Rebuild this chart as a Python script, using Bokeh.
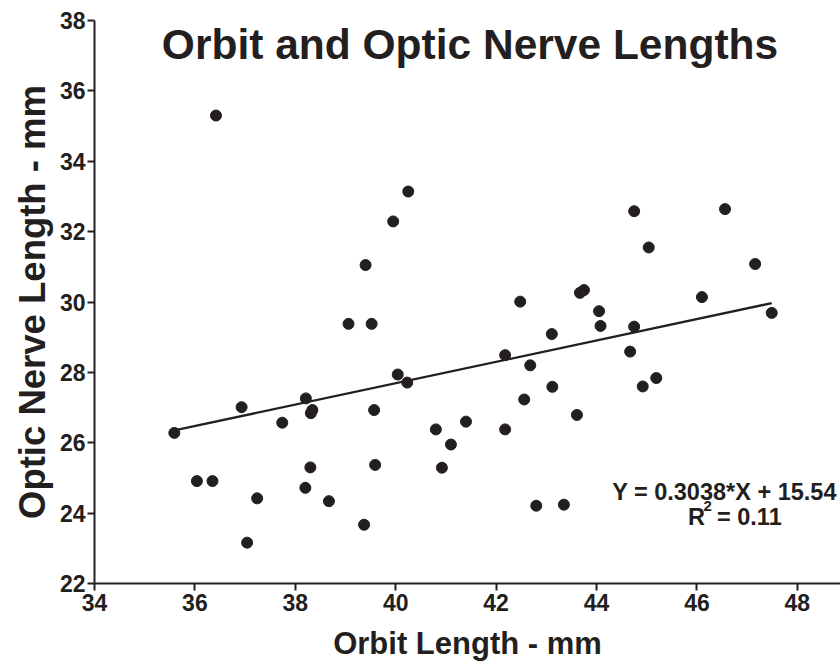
from bokeh.plotting import figure
from bokeh.models import Range1d, FixedTicker, Label
from bokeh.embed import file_html
from bokeh.resources import INLINE

# Data
orbit_mm = [35.59, 36.04, 36.35, 36.42, 36.93, 37.04, 37.24, 37.74, 38.21, 38.20,
            38.34, 38.31, 38.30, 38.67, 39.06, 39.37, 39.40, 39.52, 39.57, 39.59,
            39.95, 40.04, 40.23, 40.25, 40.80, 40.92, 41.10, 41.40, 42.18, 42.18,
            42.48, 42.56, 42.68, 42.80, 43.11, 43.12, 43.35, 43.61, 43.67, 43.75,
            44.05, 44.08, 44.67, 44.75, 44.75, 44.92, 45.04, 45.19, 46.10, 46.56,
            47.16, 47.49]
optic_nerve_mm = [26.28, 24.91, 24.91, 35.30, 27.01, 23.16, 24.42, 26.57, 27.26, 24.72,
                  26.93, 26.84, 25.30, 24.34, 29.38, 23.67, 31.05, 29.38, 26.93, 25.37,
                  32.29, 27.94, 27.71, 33.14, 26.38, 25.29, 25.95, 26.60, 28.49, 26.38,
                  30.01, 27.23, 28.20, 24.21, 29.09, 27.59, 24.24, 26.79, 30.26, 30.34,
                  29.74, 29.32, 28.59, 32.58, 29.30, 27.60, 31.55, 27.84, 30.14, 32.64,
                  31.08, 29.69]

slope = 0.3038
intercept = 15.54
r_squared = 0.11

x_ticks = [34, 36, 38, 40, 42, 44, 46, 48]
y_ticks = [22, 24, 26, 28, 30, 32, 34, 36, 38]

INK = "#231f20"
FONT = "Liberation Sans"

p = figure(width=840, height=664, output_backend="svg", toolbar_location=None,
           x_range=Range1d(34, 48.86), y_range=Range1d(22, 38),
           min_border_left=94, min_border_right=0, min_border_top=20, min_border_bottom=81)
p.outline_line_color = None
p.xgrid.visible = False
p.ygrid.visible = False
p.background_fill_color = "white"

for ax, ticks in ((p.xaxis, x_ticks), (p.yaxis, y_ticks)):
    ax.ticker = FixedTicker(ticks=ticks)
    ax.minor_tick_line_color = None
    ax.major_tick_out = 7
    ax.major_tick_in = 0
    ax.axis_line_width = 2
    ax.major_tick_line_width = 2
    ax.axis_line_color = INK
    ax.major_tick_line_color = INK
    ax.major_label_text_font = FONT
    ax.major_label_text_font_style = "bold"
    ax.major_label_text_font_size = "23px"
    ax.major_label_text_color = INK
    ax.axis_label_text_font = FONT
    ax.axis_label_text_font_style = "bold"
    ax.axis_label_text_color = INK

p.xaxis.major_label_standoff = 3
p.yaxis.major_label_standoff = 2
p.xaxis.axis_label = "Orbit Length - mm"
p.yaxis.axis_label = "Optic Nerve Length - mm"
p.xaxis.axis_label_text_font_size = "31px"
p.yaxis.axis_label_text_font_size = "36.5px"
p.xaxis.axis_label_standoff = 12
p.yaxis.axis_label_standoff = 4

# regression line
x0, x1 = min(orbit_mm), max(orbit_mm)
p.line([x0, x1], [slope * x0 + intercept, slope * x1 + intercept], line_color=INK, line_width=2.3)

p.scatter(orbit_mm, optic_nerve_mm, size=11, marker="circle", fill_color=INK, line_color=INK)

def txt(x, y, s, size, align="center"):
    p.add_layout(Label(x=x, y=y, text=s, text_align=align, text_baseline="alphabetic",
                       text_font=FONT, text_font_style="bold", text_font_size=size,
                       text_color=INK))

txt(41.48, 37.31, "Orbit and Optic Nerve Lengths", "42.5px")
txt(46.55, 24.61, f"Y = {slope:.4f}*X + {intercept:.2f}", "23.5px")
txt(45.82, 23.90, "R", "23.5px", "left")
txt(46.13, 24.20, "2", "15px", "left")
txt(46.40, 23.90, f"= {r_squared:.2f}", "23.5px", "left")

open("out.html", "w").write(file_html(p, INLINE))
